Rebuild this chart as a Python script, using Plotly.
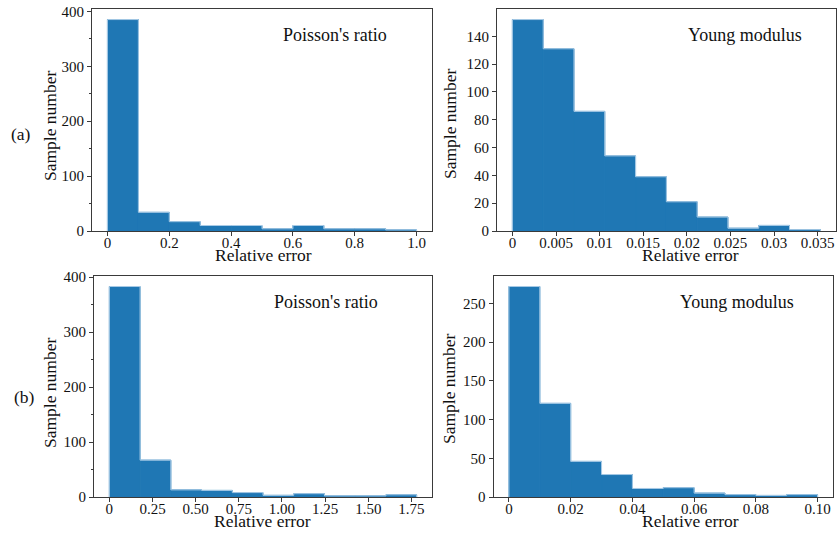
import plotly.graph_objects as go

# ---------------- data ----------------
# (a) Poisson's ratio
a_pr_edges = [0.0, 0.1, 0.2, 0.3, 0.4, 0.5, 0.6, 0.7, 0.8, 0.9, 1.0]
a_pr_counts = [385, 34, 17, 10, 10, 4, 10, 4, 4, 2]
# (a) Young modulus
a_ym_edges = [0.0, 0.00353, 0.00706, 0.01059, 0.01412, 0.01765, 0.02118, 0.02471, 0.02824, 0.03177, 0.0353]
a_ym_counts = [152, 131, 86, 54, 39, 21, 10, 2, 4, 1]
# (b) Poisson's ratio
b_pr_edges = [0.0, 0.178, 0.356, 0.534, 0.712, 0.89, 1.068, 1.246, 1.424, 1.602, 1.78]
b_pr_counts = [383, 67, 13, 12, 8, 3, 6, 2, 2, 4]
# (b) Young modulus
b_ym_edges = [0.0, 0.01, 0.02, 0.03, 0.04, 0.05, 0.06, 0.07, 0.08, 0.09, 0.1]
b_ym_counts = [272, 121, 46, 29, 11, 12, 5, 3, 2, 3]

# tick labels
a_pr_xticks = [0, 0.2, 0.4, 0.6, 0.8, 1.0]
a_pr_xtext = ["0", "0.2", "0.4", "0.6", "0.8", "1.0"]
a_ym_xticks = [0, 0.005, 0.01, 0.015, 0.02, 0.025, 0.03, 0.035]
a_ym_xtext = ["0", "0.005", "0.01", "0.015", "0.02", "0.025", "0.03", "0.035"]
b_pr_xticks = [0, 0.25, 0.5, 0.75, 1.0, 1.25, 1.5, 1.75]
b_pr_xtext = ["0", "0.25", "0.50", "0.75", "1.00", "1.25", "1.50", "1.75"]
b_ym_xticks = [0, 0.02, 0.04, 0.06, 0.08, 0.10]
b_ym_xtext = ["0", "0.02", "0.04", "0.06", "0.08", "0.10"]

titles = ["Poisson's ratio", "Young modulus", "Poisson's ratio", "Young modulus"]
row_labels = ["(a)", "(b)"]
x_title = "Relative error"
y_title = "Sample number"

# ---------------- style / layout ----------------
W, H = 839, 544
FONT = "Liberation Serif, Times New Roman, serif"
BAR = "#1f77b4"
EDGE = "#a9cbe6"
AX = "#3a3a3a"
TXT = "#111111"

def px_x(p):
    return p / W

def px_y(p):
    return 1 - p / H

# axis boxes in pixels: (left, right, top, bottom)
boxes = [(92, 432, 9, 231), (497, 835.7, 9, 231), (94, 432, 276, 497), (493.5, 833, 276, 497)]

panels = [
    (a_pr_edges, a_pr_counts, a_pr_xticks, a_pr_xtext, 100, 50),
    (a_ym_edges, a_ym_counts, a_ym_xticks, a_ym_xtext, 20, None),
    (b_pr_edges, b_pr_counts, b_pr_xticks, b_pr_xtext, 100, 50),
    (b_ym_edges, b_ym_counts, b_ym_xticks, b_ym_xtext, 50, None),
]

fig = go.Figure()
layout = dict(
    width=W, height=H, autosize=False,
    margin=dict(l=0, r=0, t=0, b=0, pad=0, autoexpand=False),
    paper_bgcolor="white", plot_bgcolor="white",
    showlegend=False,
    font=dict(family=FONT, size=15, color=TXT),
)

annotations = []
for i, (edges, counts, xt, xtext, ydt, yminor) in enumerate(panels):
    k = "" if i == 0 else str(i + 1)
    xa, ya = "x" + k, "y" + k
    lefts = edges[:-1]
    widths = [edges[j + 1] - edges[j] for j in range(len(counts))]
    fig.add_trace(go.Bar(
        x=lefts, y=counts, width=widths, offset=0,
        marker=dict(color=BAR, line=dict(width=1, color=BAR)),
        xaxis=xa, yaxis=ya, hoverinfo="x+y",
    ))
    # light outline along the histogram's top (step outline)
    sx = [edges[0]] + edges[:-1] + [edges[-1]]
    sy = [0] + counts + [0]
    fig.add_trace(go.Scatter(
        x=sx, y=sy, mode="lines", line=dict(color=EDGE, width=1, shape="hv"),
        xaxis=xa, yaxis=ya, hoverinfo="skip",
    ))

    d = edges[-1] - edges[0]
    l, r, t, b = boxes[i]
    xaxis = dict(
        domain=[px_x(l), px_x(r)], anchor=ya,
        range=[edges[0] - 0.05 * d, edges[-1] + 0.05 * d],
        tickvals=xt, ticktext=xtext,
        ticks="outside", ticklen=4, tickwidth=1, tickcolor=AX,
        ticklabelstandoff=-6,
        showline=True, linecolor=AX, linewidth=1, mirror=True,
        showgrid=False, zeroline=False,
        tickfont=dict(family=FONT, size=15, color=TXT),
    )
    yaxis = dict(
        domain=[px_y(b), px_y(t)], anchor=xa,
        range=[0, max(counts) * 1.05],
        dtick=ydt, tick0=0,
        ticks="outside", ticklen=4, tickwidth=1, tickcolor=AX,
        showline=True, linecolor=AX, linewidth=1, mirror=True,
        showgrid=False, zeroline=False,
        tickfont=dict(family=FONT, size=15, color=TXT),
    )
    if yminor:
        yaxis["minor"] = dict(dtick=yminor, tick0=0, ticks="outside", ticklen=2,
                              tickcolor=AX, showgrid=False)
    layout["xaxis" + k] = xaxis
    layout["yaxis" + k] = yaxis

# panel titles (inside, top right)
title_pos = [(334.7, 34.5), (745, 35), (326, 302), (736.5, 302)]
for (cx, cy), txt in zip(title_pos, titles):
    annotations.append(dict(text=txt, x=px_x(cx), y=px_y(cy), xref="paper", yref="paper",
                            showarrow=False, xanchor="center", yanchor="middle",
                            font=dict(family=FONT, size=18, color=TXT)))

# axis titles
xt_pos = [(263, 255), (690, 255), (262, 521), (690, 521)]
for cx, cy in xt_pos:
    annotations.append(dict(text=x_title, x=px_x(cx), y=px_y(cy), xref="paper", yref="paper",
                            showarrow=False, xanchor="center", yanchor="middle",
                            font=dict(family=FONT, size=17.5, color=TXT)))
yt_pos = [(50, 126), (450, 124), (50, 393), (449, 389)]
for cx, cy in yt_pos:
    annotations.append(dict(text=y_title, x=px_x(cx), y=px_y(cy), xref="paper", yref="paper",
                            showarrow=False, xanchor="center", yanchor="middle", textangle=-90,
                            font=dict(family=FONT, size=17.5, color=TXT)))

# row labels
for (cx, cy), txt in zip([(21, 134), (24, 397)], row_labels):
    annotations.append(dict(text=txt, x=px_x(cx), y=px_y(cy), xref="paper", yref="paper",
                            showarrow=False, xanchor="center", yanchor="middle",
                            font=dict(family=FONT, size=17.5, color=TXT)))

layout["annotations"] = annotations
fig.update_layout(**layout)
fig.write_html(
    "out.html",
    config={"displayModeBar": False},
    post_script="document.body.style.margin='0';document.body.style.padding='0';document.body.style.overflow='hidden';",
)
